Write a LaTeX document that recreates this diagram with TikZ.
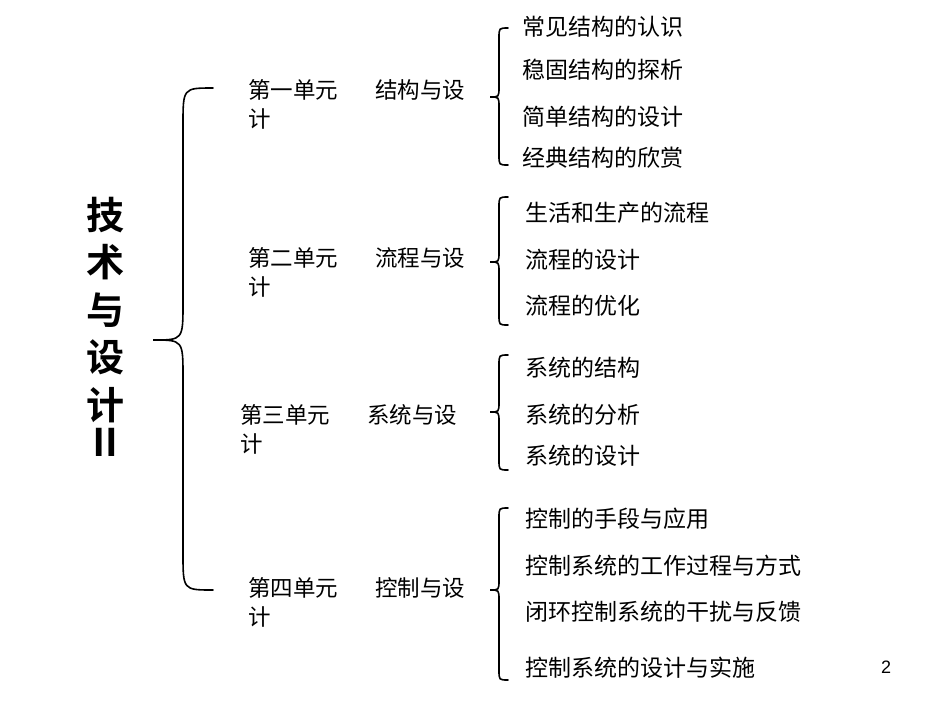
\documentclass[tikz,border=0pt]{standalone}
\usepackage{fontspec}
\setmainfont{Liberation Sans}
\newfontfamily\cjk{Noto Sans CJK SC}
\newfontfamily\cjkb{Noto Sans CJK SC Bold}
\begin{document}
\begin{tikzpicture}[x=1pt,y=-1pt,
  bracestyle/.style={line width=1.6pt,line cap=round},
  item/.style={anchor=west,font=\cjk\fontsize{23}{26}\selectfont,inner sep=0},
  unit/.style={anchor=north west,font=\cjk\fontsize{22.5}{29}\selectfont,inner sep=0,align=left},
  title/.style={font=\cjkb\fontsize{38}{40}\selectfont,inner sep=0}]
\useasboundingbox (0,0) rectangle (950,713);
% title
\foreach \c/\y [count=\i] in {技/215,术/262,与/310,设/357,计/405,Ⅱ/442}
  \node[title] (t\i) at (105,\y) {\c};
% big brace
\draw[bracestyle] (213,88) .. controls (183,88) .. (183,125) -- (183,303)
  .. controls (183,340) .. (153,340) .. controls (183,340) .. (183,377) -- (183,553)
  .. controls (183,590) .. (213,590);
% small braces
\foreach \ya/\yt/\yb in {28/97/165, 197/262/325, 355/412/470, 508/590/680}{
\draw[bracestyle] (508,\ya) .. controls (499,\ya) .. (499,\ya+10) -- (499,\yt-10)
  .. controls (499,\yt) .. (490,\yt) .. controls (499,\yt) .. (499,\yt+10) -- (499,\yb-10)
  .. controls (499,\yb) .. (508,\yb);}
% units
\node[unit] (u1) at (248,79) {第一单元\hspace{1.65em}结构与设\\计};
\node[unit] (u2) at (248,247) {第二单元\hspace{1.65em}流程与设\\计};
\node[unit] (u3) at (240,404) {第三单元\hspace{1.65em}系统与设\\计};
\node[unit] (u4) at (248,577) {第四单元\hspace{1.65em}控制与设\\计};
% items
\node[item] (a1) at (522,27) {常见结构的认识};
\node[item] (a2) at (522,70) {稳固结构的探析};
\node[item] (a3) at (522,117) {简单结构的设计};
\node[item] (a4) at (522,158) {经典结构的欣赏};
\node[item] (b1) at (525,213) {生活和生产的流程};
\node[item] (b2) at (525,260) {流程的设计};
\node[item] (b3) at (525,306) {流程的优化};
\node[item] (c1) at (525,368) {系统的结构};
\node[item] (c2) at (525,415) {系统的分析};
\node[item] (c3) at (525,456) {系统的设计};
\node[item] (d1) at (525,519) {控制的手段与应用};
\node[item] (d2) at (525,566) {控制系统的工作过程与方式};
\node[item] (d3) at (525,612) {闭环控制系统的干扰与反馈};
\node[item] (d4) at (525,668) {控制系统的设计与实施};
\node[font=\fontsize{18}{20}\selectfont,inner sep=0] (pg) at (886,667) {2};
\end{tikzpicture}
\end{document}
